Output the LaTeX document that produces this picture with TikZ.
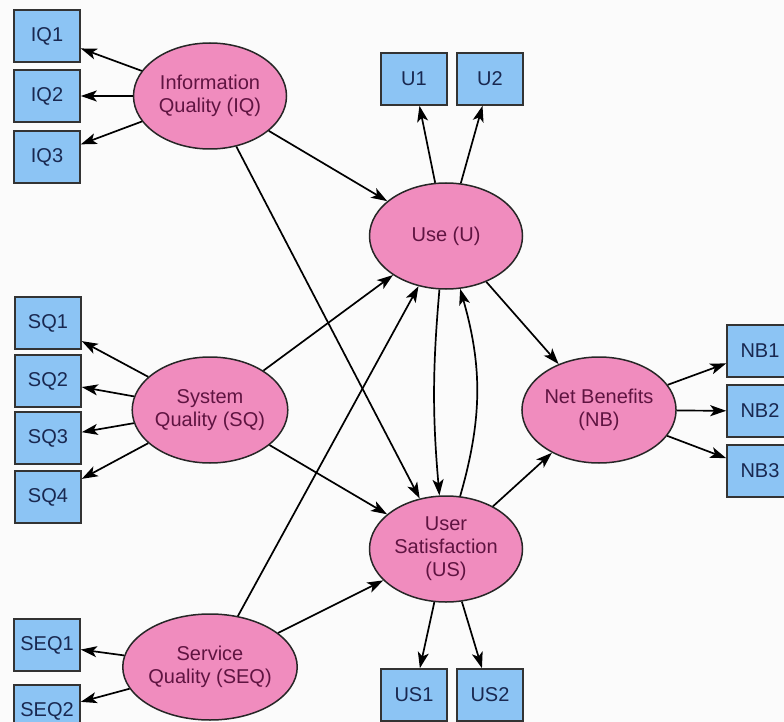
\documentclass[tikz,border=0pt]{standalone}
\usepackage{fontspec}
\setmainfont{Liberation Sans}
\usepackage{tikz}
\usetikzlibrary{shapes.geometric,arrows.meta,positioning}
\definecolor{latentpink}{RGB}{240,140,190}
\definecolor{latenttext}{RGB}{95,20,65}
\definecolor{itemblue}{RGB}{140,196,244}
\definecolor{itemtext}{RGB}{25,40,80}
\tikzstyle{latent} = [ellipse, draw=black!85, line width=1.5pt, fill=latentpink, text=latenttext, minimum width=153pt, minimum height=106pt, inner sep=0pt, align=center, font=\fontsize{20}{23}\selectfont]
\tikzstyle{item} = [rectangle, draw=black!80, line width=1.6pt, fill=itemblue, text=itemtext, minimum width=66pt, minimum height=52pt, inner sep=0pt, font=\fontsize{20}{24}\selectfont]
\tikzstyle{line} = [draw, line width=1.7pt, -{Stealth[length=16pt,width=11pt,inset=4pt]}]

\begin{document}
\begin{tikzpicture}[x=1pt,y=-1pt]
		\useasboundingbox (0,0) rectangle (784,722);
		\clip (0,0) rectangle (784,722);
		\fill[white!97!gray] (0,0) rectangle (784,722);
		% latent constructs
		\node[latent] (iq)  at (210,96)  {Information\\Quality (IQ)};
		\node[latent] (sq)  at (210,410) {System\\Quality (SQ)};
		\node[latent] (seq) at (210,667) {Service\\Quality (SEQ)};
		\node[latent] (u)   at (446,236) {Use (U)};
		\node[latent] (us)  at (446,549) {User\\Satisfaction\\(US)};
		\node[latent] (nb)  at (599,410) {Net Benefits\\(NB)};
		% indicators
		\node[item] (iq1)  at (47,36)   {IQ1};
		\node[item] (iq2)  at (47,96)   {IQ2};
		\node[item] (iq3)  at (47,157)  {IQ3};
		\node[item] (sq1)  at (48,323)  {SQ1};
		\node[item] (sq2)  at (48,381)  {SQ2};
		\node[item] (sq3)  at (48,438)  {SQ3};
		\node[item] (sq4)  at (48,497)  {SQ4};
		\node[item] (seq1) at (47,645)  {SEQ1};
		\node[item] (seq2) at (47,711)  {SEQ2};
		\node[item] (u1)   at (414,79)  {U1};
		\node[item] (u2)   at (490,79)  {U2};
		\node[item] (us1)  at (414,695) {US1};
		\node[item] (us2)  at (490,695) {US2};
		\node[item] (nb1)  at (760,351) {NB1};
		\node[item] (nb2)  at (760,411) {NB2};
		\node[item] (nb3)  at (760,471) {NB3};
		% measurement arrows
		\foreach \t in {iq1,iq2,iq3} \path[line] (iq) -- (\t);
		\foreach \t in {sq1,sq2,sq3,sq4} \path[line] (sq) -- (\t);
		\foreach \t in {seq1,seq2} \path[line] (seq) -- (\t);
		\foreach \t in {u1,u2} \path[line] (u) -- (\t);
		\foreach \t in {us1,us2} \path[line] (us) -- (\t);
		\foreach \t in {nb1,nb2,nb3} \path[line] (nb) -- (\t);
		% structural paths
		\path[line] (iq)  -- (u);
		\path[line] (iq)  -- (us);
		\path[line] (sq)  -- (u);
		\path[line] (sq)  -- (us);
		\path[line] (seq) -- (u);
		\path[line] (seq) -- (us);
		\path[line] (u)   -- (nb);
		\path[line] (us)  -- (nb);
		\path[line] (u.263) to[bend right=5]  (us.97);  % U -> US
		\path[line] (us.75) to[bend right=16] (u.285);  % US -> U
\end{tikzpicture}
\end{document}
